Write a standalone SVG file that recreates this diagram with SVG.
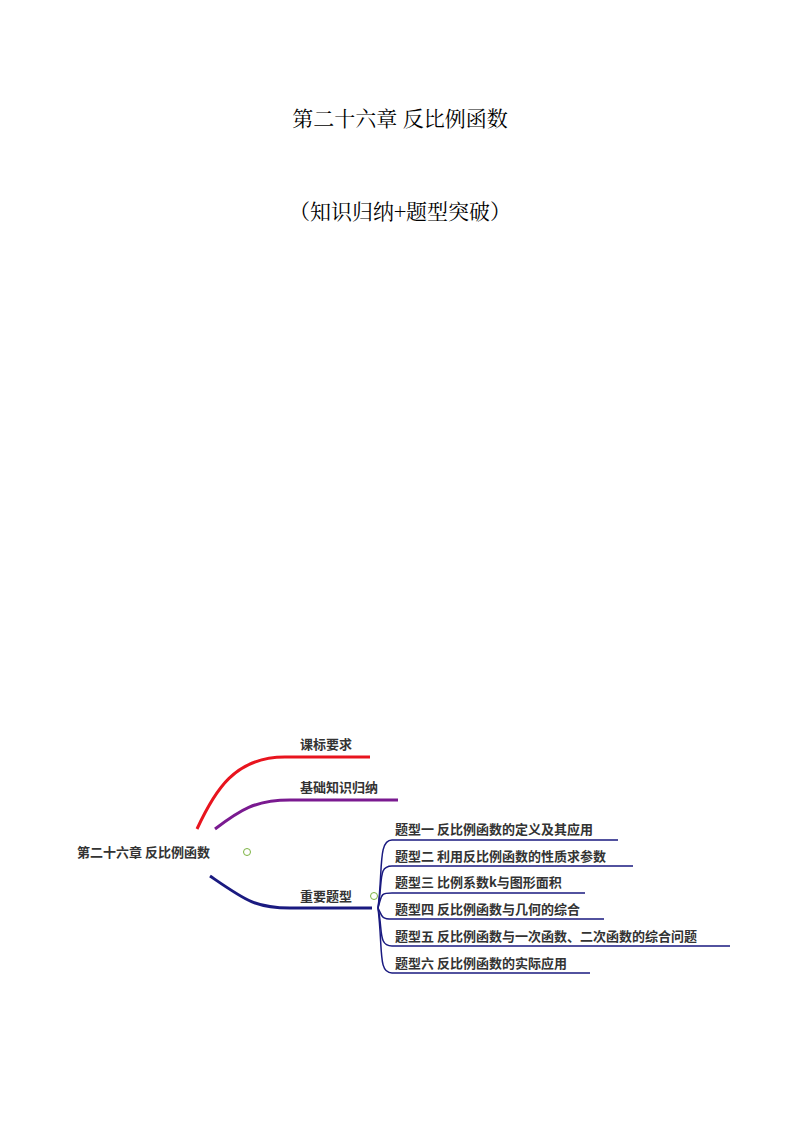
<svg xmlns="http://www.w3.org/2000/svg" width="800" height="1132" viewBox="0 0 800 1132">
<style>
.t{font-family:"Noto Serif CJK SC","Noto Sans CJK SC",serif;font-size:21px;fill:#000;text-anchor:middle}
.n{font-family:"Noto Sans CJK SC",sans-serif;font-size:13px;font-weight:bold;fill:#333}
.c{fill:#fff;stroke:#7cb342;stroke-width:1}
.b{fill:none;stroke:#1a1a80;stroke-width:1.5}
</style>
<rect width="800" height="1132" fill="#fff"/>
<text class="t" x="400" y="126">第二十六章  反比例函数</text>
<text class="t" x="400" y="219">（知识归纳+题型突破）</text>
<g id="connectors">
<path d="M197,829 C215,790 235,757 285,757 L370,757" fill="none" stroke="#e8141e" stroke-width="3"/>
<path d="M215,829 C240,810 255,800 290,800 L398,800" fill="none" stroke="#7a1a90" stroke-width="3"/>
<path d="M210,876 C245,900 255,908 290,908 L372,908" fill="none" stroke="#1a1a80" stroke-width="3"/>
<path class="b" d="M378,908 C383,870 378,840 392,840 L618,840"/>
<path class="b" d="M378,908 C383,880 378,866 392,866 L633,866"/>
<path class="b" d="M378,908 C382,895 380,893 392,893 L585,893"/>
<path class="b" d="M378,908 C382,915 380,919 392,919 L604,919"/>
<path class="b" d="M378,908 C383,930 378,946 392,946 L730,946"/>
<path class="b" d="M378,908 C383,950 378,973 392,973 L590,973"/>
</g>
<g id="root"><text class="n" x="77" y="857">第二十六章 反比例函数</text><circle class="c" cx="247" cy="852" r="3.5"/></g>
<g id="n1"><text class="n" x="300" y="749">课标要求</text></g>
<g id="n2"><text class="n" x="300" y="792">基础知识归纳</text></g>
<g id="n3"><text class="n" x="300" y="901">重要题型</text><circle class="c" cx="374" cy="896" r="3.5"/></g>
<g id="s1"><text class="n" x="395" y="834">题型一 反比例函数的定义及其应用</text></g>
<g id="s2"><text class="n" x="395" y="861">题型二 利用反比例函数的性质求参数</text></g>
<g id="s3"><text class="n" x="395" y="887">题型三 比例系数k与图形面积</text></g>
<g id="s4"><text class="n" x="395" y="914">题型四 反比例函数与几何的综合</text></g>
<g id="s5"><text class="n" x="395" y="941">题型五 反比例函数与一次函数、二次函数的综合问题</text></g>
<g id="s6"><text class="n" x="395" y="968">题型六 反比例函数的实际应用</text></g>
</svg>
